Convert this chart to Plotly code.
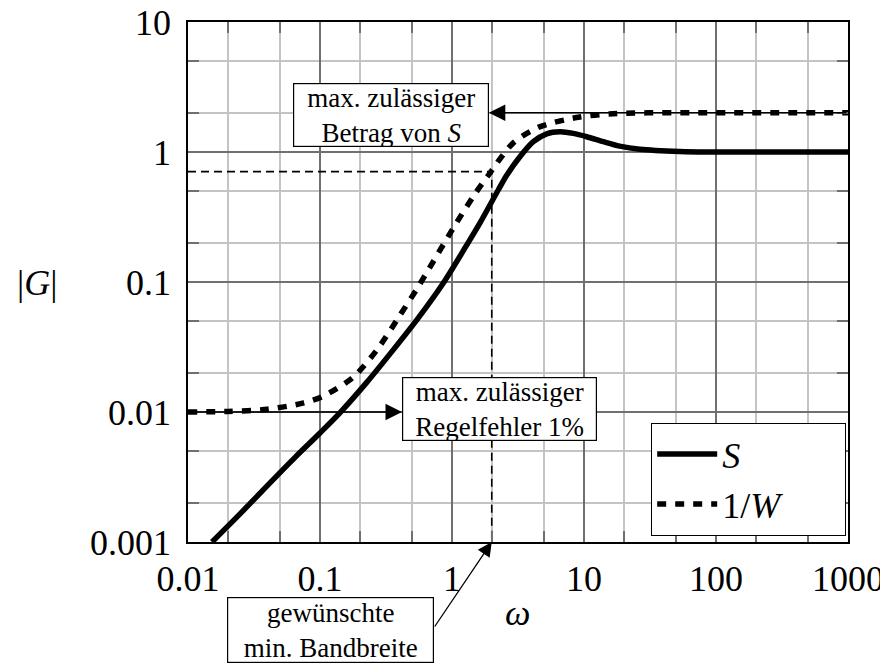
import math
import plotly.graph_objects as go

# ---------------- data ----------------
omega_S = [0.0152, 0.025, 0.0418, 0.065, 0.1, 0.142, 0.226, 0.36, 0.556, 0.875, 1.315, 1.63,
           2.24, 2.59, 3.27, 4.13, 5.21, 6.58, 8.3, 10.5, 14.0, 18.6, 26.5, 53.0,
           100.0, 1000.0]
S_vals = [0.001, 0.00166, 0.00285, 0.0045, 0.0069, 0.0099, 0.0169, 0.0302, 0.053, 0.101, 0.198, 0.285,
          0.51, 0.66, 0.92, 1.20, 1.38, 1.43, 1.39, 1.31, 1.20, 1.11, 1.05, 1.01,
          1.00, 1.00]

omega_W = [0.01, 0.02, 0.04, 0.074, 0.105, 0.178, 0.27, 0.39, 0.54, 0.643, 1.055,
           1.49, 1.84, 2.9, 4.6, 9.3, 16.6, 30.0, 1000.0]
Winv_vals = [0.0100, 0.0101, 0.0105, 0.0117, 0.0132, 0.0185, 0.030, 0.0526, 0.088,
             0.118, 0.274, 0.475, 0.64, 1.17, 1.56, 1.86, 1.97, 2.0, 2.0]

omega_bw = 2.0          # gewünschte min. Bandbreite
S_bw = 0.707            # |S| at bandwidth (1/sqrt 2)

x_tickvals = [0.01, 0.1, 1, 10, 100, 1000]
x_ticktext = ["0.01", "0.1", "1", "10", "100", "1000"]
y_tickvals = [0.001, 0.01, 0.1, 1, 10]
y_ticktext = ["0.001", "0.01", "0.1", "1", "10"]

x_minor = [m * 10.0 ** k for k in range(-2, 3) for m in (2, 5)]
y_minor = [m * 10.0 ** k for k in range(-3, 1) for m in (2, 5)]

FONT = "Liberation Serif"
MAJOR = "#707070"
MINOR = "#c4c4c4"
NB = "\u00a0"

fig = go.Figure()

# dashed bandwidth guide
fig.add_trace(go.Scatter(
    x=[x_tickvals[0], omega_bw, omega_bw], y=[S_bw, S_bw, y_tickvals[0]],
    mode="lines", line=dict(color="black", width=1.6, dash="8px,5px"),
    showlegend=False, hoverinfo="skip"))

fig.add_trace(go.Scatter(
    x=omega_S, y=S_vals, mode="lines", name="<i>S</i>" + NB * 11,
    line=dict(color="black", width=5.5, shape="spline", smoothing=0.8)))

fig.add_trace(go.Scatter(
    x=omega_W, y=Winv_vals, mode="lines", name="1/<i>W</i>" + NB * 3,
    line=dict(color="black", width=5.5, dash="9px,9px", shape="spline", smoothing=0.8)))

axis_common = dict(
    type="log", showline=True, linecolor="black", linewidth=1.6, mirror="allticks",
    showgrid=True, gridcolor=MAJOR, gridwidth=2, ticks="", automargin=False,
    tickfont=dict(family=FONT, size=36, color="black"),
    ticklabeloverflow="allow", zeroline=False,
)

fig.update_xaxes(
    **axis_common, range=[-2, 3], tickvals=x_tickvals, ticktext=x_ticktext,
    ticklabelstandoff=4,
    minor=dict(tickvals=x_minor, showgrid=True, gridcolor=MINOR, gridwidth=2,
               ticks="inside", ticklen=11, tickcolor=MAJOR, tickwidth=2))
fig.update_yaxes(
    **axis_common, range=[-3, 1], tickvals=y_tickvals, ticktext=y_ticktext,
    ticklabelstandoff=8,
    minor=dict(tickvals=y_minor, showgrid=True, gridcolor=MINOR, gridwidth=2,
               ticks="inside", ticklen=11, tickcolor=MAJOR, tickwidth=2))

box_font = dict(family=FONT, size=27, color="black")
annotations = [
    dict(text="max. zulässiger<br>Betrag von <i>S</i>", xref="paper", yref="paper",
         x=0.3076, y=0.821, xanchor="center", yanchor="middle", showarrow=False,
         font=box_font, bgcolor="white", bordercolor="black", borderwidth=1.2,
         borderpad=0, width=194, height=62),
    dict(text="max. zulässiger<br>Regelfehler 1%", xref="paper", yref="paper",
         x=0.472, y=0.2558, xanchor="center", yanchor="middle", showarrow=False,
         font=box_font, bgcolor="white", bordercolor="black", borderwidth=1.2,
         borderpad=0, width=193, height=62),
    dict(text="gewünschte<br>min. Bandbreite", xref="paper", yref="paper",
         x=0.2159, y=-0.169, xanchor="center", yanchor="middle", showarrow=False,
         font=box_font, bgcolor="white", bordercolor="black", borderwidth=1.2,
         borderpad=0, width=205, height=64),
    # arrows
    dict(text="", x=math.log10(1.9), y=math.log10(Winv_vals[-1]), xref="x", yref="y",
         ax=math.log10(omega_W[-1]), ay=math.log10(Winv_vals[-1]), axref="x", ayref="y",
         showarrow=True, arrowhead=2, arrowsize=2.2, arrowwidth=1.5, arrowcolor="black",
         standoff=0, startstandoff=0),
    dict(text="", x=math.log10(0.418), y=math.log10(Winv_vals[0]), xref="x", yref="y",
         ax=math.log10(omega_W[0]), ay=math.log10(Winv_vals[0]), axref="x", ayref="y",
         showarrow=True, arrowhead=2, arrowsize=2.2, arrowwidth=1.5, arrowcolor="black",
         standoff=0, startstandoff=0),
    dict(text="", x=math.log10(omega_bw), y=math.log10(y_tickvals[0]), xref="x", yref="y",
         ax=-58, ay=86, axref="pixel", ayref="pixel",
         showarrow=True, arrowhead=2, arrowsize=2.2, arrowwidth=1.3, arrowcolor="black",
         standoff=0, startstandoff=0),
    # axis titles
    dict(text="|<i>G</i>|", xref="paper", yref="paper", x=-0.2288, y=0.498,
         xanchor="center", yanchor="middle", showarrow=False,
         font=dict(family=FONT, size=36, color="black")),
    dict(text="<i>ω</i>", xref="paper", yref="paper", x=0.4985, y=-0.1365,
         xanchor="center", yanchor="middle", showarrow=False,
         font=dict(family=FONT, size=36, color="black")),
]

# the page adds an 8 px body margin, so the figure is 8 px smaller and shifted
fig.update_layout(
    width=880, height=656, autosize=False,
    margin=dict(l=180, r=40, t=14, b=122, autoexpand=False),
    paper_bgcolor="white", plot_bgcolor="white",
    font=dict(family=FONT, color="black"),
    annotations=annotations,
    legend=dict(x=0.7015, y=0.2288, xanchor="left", yanchor="top",
                bgcolor="white", bordercolor="black", borderwidth=1.2,
                font=dict(family=FONT, size=36, color="black"),
                itemwidth=60, tracegroupgap=0),
)

fig.write_html("out.html")
